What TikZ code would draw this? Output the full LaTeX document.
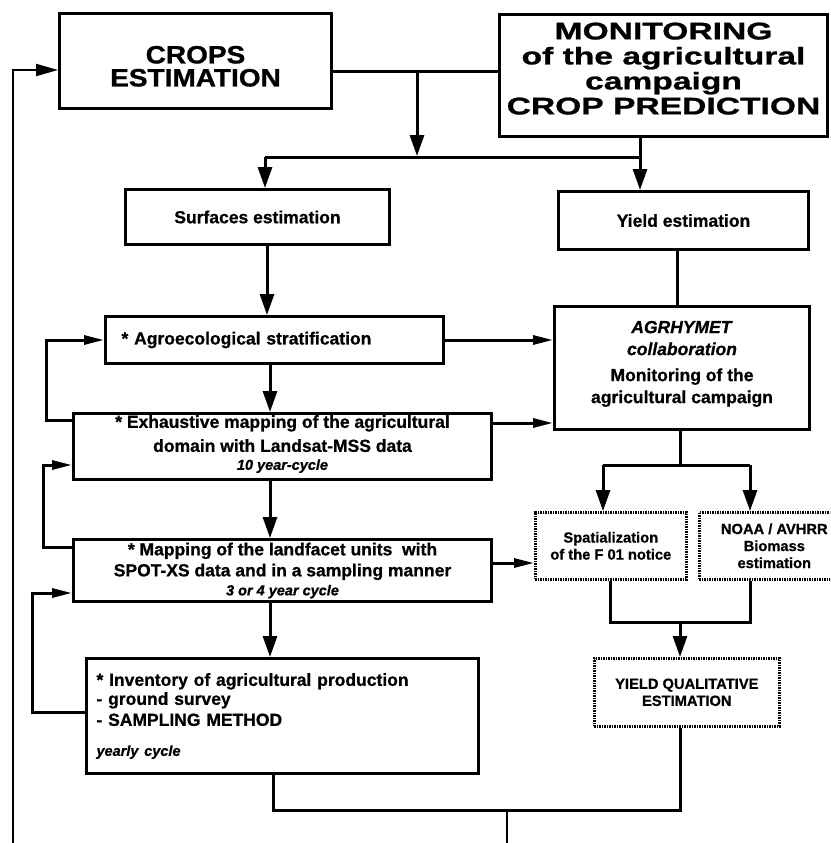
\documentclass[tikz,border=0pt]{standalone}
\usepackage{fontspec}
\setmainfont{Liberation Sans}[BoldFeatures={FakeBold=0.8}, BoldItalicFeatures={FakeBold=0.8}]
\newfontfamily\crfont{Liberation Sans}[FakeStretch=1.12, BoldFeatures={FakeBold=1}]
\newfontfamily\monfont{Liberation Sans}[FakeStretch=1.4, BoldFeatures={FakeBold=1}]
\usetikzlibrary{arrows.meta}
\newcommand\Mfnt{\bfseries\fontsize{17.5}{22}\selectfont}
\newcommand\Sfnt{\bfseries\fontsize{14.7}{17}\selectfont}
\newcommand\Ifnt{\bfseries\itshape\fontsize{14.5}{17}\selectfont}
\begin{document}
\begin{tikzpicture}[x=1pt,y=-1pt,
  box/.style={draw, line width=3pt, rectangle, inner sep=0pt, anchor=north west, font=\Mfnt, align=center},
  dotbox/.style={draw, line width=2.6pt, dash pattern=on 1.6pt off 0.9pt, rectangle, inner sep=0pt, anchor=north west, font=\Sfnt, align=center},
  conn/.style={line width=3pt},
  arr/.style={conn, -{Triangle[length=21pt,width=14pt]}},
  harr/.style={conn, -{Triangle[length=20pt,width=9pt]}}
]
\useasboundingbox (0,0) rectangle (830,843);
\clip (0,0) rectangle (830,843);

% boxes
\node[box, minimum width=272pt, minimum height=95pt, font=\crfont\bfseries\fontsize{25}{23}\selectfont] (crops) at (58,12) {\rule{0pt}{28pt}CROPS\\ESTIMATION};
\node[box, minimum width=328pt, minimum height=122pt, font=\monfont\bfseries\fontsize{24}{25}\selectfont] (mon) at (498,13) {MONITORING\\of the agricultural\\campaign\\CROP PREDICTION\rule[-14pt]{0pt}{14pt}};
\node[box, minimum width=264pt, minimum height=55pt] (surf) at (124,188) {Surfaces estimation};
\node[box, minimum width=250pt, minimum height=58pt] (yield) at (557,190) {Yield estimation};
\node[box, minimum height=47pt, inner xsep=16pt, text width=306pt, align=left] (agro) at (104,315) {* Agroecological stratification};
\node[box, minimum width=255pt, minimum height=123pt] (agr) at (553,305) {\textit{AGRHYMET}\\\textit{collaboration}\\[4pt]Monitoring of the\\agricultural campaign\rule[-12pt]{0pt}{12pt}};
\node[box, minimum width=418pt, minimum height=66pt] (exh) at (72,412) {* Exhaustive mapping of the agricultural\\[2pt]domain with Landsat-MSS data\\[-4pt]{\Ifnt 10 year-cycle}\rule[-8pt]{0pt}{8pt}};
\node[box, minimum width=418pt, minimum height=62pt] (map) at (72,538) {* Mapping of the landfacet units\ \ with\\[-1pt]SPOT-XS data and in a sampling manner\\[-3pt]{\Ifnt 3 or 4 year cycle}};
\node[box, minimum height=115pt, inner xsep=10pt, text width=372pt, align=left] (inv) at (85,657) {* Inventory of agricultural production\\[-3pt]- ground survey\\[-1pt]- SAMPLING METHOD\\[8pt]{\Ifnt yearly cycle}};
\node[dotbox, minimum width=151pt, minimum height=67pt] (spat) at (534,511) {Spatialization\\of the F 01 notice};
\node[dotbox, minimum width=150pt, minimum height=67pt] (noaa) at (698,511) {NOAA / AVHRR\\Biomass\\estimation};
\node[dotbox, minimum width=185pt, minimum height=68pt] (yq) at (593,657) {YIELD QUALITATIVE\\ESTIMATION};

% helper coordinates
\coordinate (h72) at (0,72);
\coordinate (j1) at (417,72);
\coordinate (j2) at (417,156);
\coordinate (jl) at (265,157);
\coordinate (jr) at (640,157);
\coordinate (x267) at (267,0);
\coordinate (x270) at (270,0);
\coordinate (x677) at (677,0);
\coordinate (y340) at (0,340);
\coordinate (y423) at (0,423);
\coordinate (y563) at (0,563);
\coordinate (y420) at (0,420);
\coordinate (y547) at (0,547);
\coordinate (y712) at (0,712);
\coordinate (l1) at (46,340);
\coordinate (l2) at (43,465);
\coordinate (l3) at (32,593);
\coordinate (l0) at (13,70);
\coordinate (b0) at (13,845);
\coordinate (s0) at (680,465);
\coordinate (s1) at (603,465);
\coordinate (s2) at (750,465);
\coordinate (m0) at (680,622);
\coordinate (m1) at (610,622);
\coordinate (m2) at (750,622);
\coordinate (n0) at (507,810);
\coordinate (n1) at (273,810);
\coordinate (n2) at (680,810);
\coordinate (nb) at (507,845);

% top connectors
\draw[conn] (crops.east |- h72) -- (mon.west |- h72);
\draw[arr] (j1) -- (j2);
\draw[conn] (jl) -- (jr);
\draw[arr] (jl) -- (surf.north -| jl);
\draw[arr] (mon.south -| jr) -- (yield.north -| jr);

% left column
\draw[arr] (surf.south -| x267) -- (agro.north -| x267);
\draw[arr] (agro.south -| x270) -- (exh.north -| x270);
\draw[arr] (exh.south -| x270) -- (map.north -| x270);
\draw[arr] (map.south -| x270) -- (inv.north -| x270);

% right column
\draw[conn] (yield.south -| x677) -- (agr.north -| x677);
\draw[harr] (agro.east |- y340) -- (agr.west |- y340);
\draw[harr] (exh.east |- y423) -- (agr.west |- y423);
\draw[harr] (map.east |- y563) -- (spat.west |- y563);

% feedback loops
\draw[harr] (exh.west |- y420) -| (l1) -- (agro.west |- l1);
\draw[harr] (map.west |- y547) -| (l2) -- (exh.west |- l2);
\draw[harr] (inv.west |- y712) -| (l3) -- (map.west |- l3);
\draw[line width=2.2pt, -{Triangle[length=22pt,width=12pt]}] (b0) -- (l0) -- (crops.west |- l0);

% AGRHYMET split
\draw[conn] (agr.south -| s0) -- (s0);
\draw[conn] (s1) -- (s2);
\draw[arr] (s1) -- (spat.north -| s1);
\draw[arr] (s2) -- (noaa.north -| s2);

% merge to yield qualitative
\draw[conn] (spat.south -| m1) -- (m1) -- (m2) -- (noaa.south -| m2);
\draw[arr] (m0) -- (yq.north -| m0);

% bottom merge
\draw[conn] (inv.south -| n1) -- (n1) -- (n2) -- (yq.south -| n2);
\draw[line width=2.2pt] (n0) -- (nb);
\end{tikzpicture}
\end{document}
